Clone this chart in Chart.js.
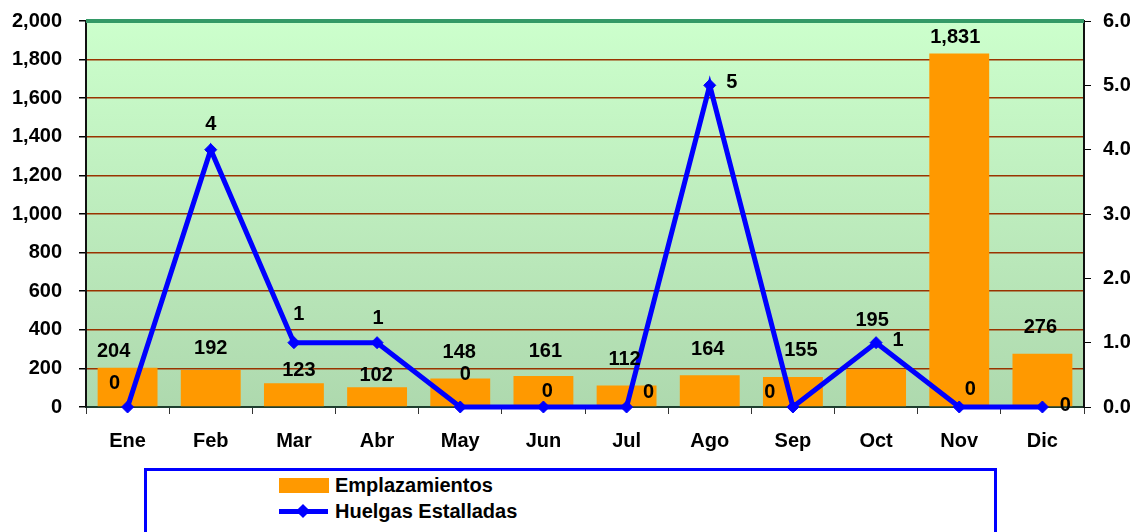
<!DOCTYPE html>
<html>
<head>
<meta charset="utf-8">
<script src="https://cdn.jsdelivr.net/npm/chart.js@4.4.0/dist/chart.umd.min.js"></script>
<style>
  body { margin: 0; background: #fff; }
  #wrap { position: relative; width: 1141px; height: 532px; overflow: hidden; }
  #legend {
    position: absolute; left: 144px; top: 468px; width: 853px; height: 90px;
    box-sizing: border-box; border: 3px solid #0000ff; background: #fff;
    font: bold 20px "Liberation Sans", Arial, sans-serif; color: #000;
  }
  .sw { position: absolute; }
  .txt { position: absolute; left: 188px; line-height: 24px; white-space: nowrap; }
</style>
</head>
<body>
<div id="wrap">
  <canvas id="barLine" width="1141" height="532"></canvas>
  <div id="legend">
    <div class="sw" style="left:132px;top:7px;width:50px;height:15px;background:#ff9900"></div>
    <div class="txt" style="top:2px">Emplazamientos</div>
    <div class="sw" style="left:132px;top:38px;width:49px;height:5px;background:#0000ff"></div>
    <div class="sw" style="left:151px;top:35px;width:10px;height:10px;background:#0000ff;transform:rotate(45deg)"></div>
    <div class="txt" style="top:28px">Huelgas Estalladas</div>
  </div>
</div>
<script>
var months = ['Ene', 'Feb', 'Mar', 'Abr', 'May', 'Jun', 'Jul', 'Ago', 'Sep', 'Oct', 'Nov', 'Dic'];
var emplazamientos = [204, 192, 123, 102, 148, 161, 112, 164, 155, 195, 1831, 276];
var huelgas = [0, 4, 1, 1, 0, 0, 0, 5, 0, 1, 0, 0];

var font = { family: '"Liberation Sans", Arial, sans-serif', size: 20, weight: 'bold' };

// where the value labels sit, relative to the bar top / line point
var barShift = [[-14, -16], [0, -21], [5, -13], [-1, -12], [-1, -26], [2, -24], [-2, -26], [-2, -26], [8, -27], [-4, -49], [-4, -16], [-2, -26]];
var lineShift = [[-13, -24], [0, -25], [5, -28], [1, -24], [5, -33], [4, -16], [22, -15], [22, -3], [-23, -15], [22, -2], [11, -18], [23, -2]];

var plotBack = {
    id: 'plotBack',
    beforeDraw: function (chart) {
        var a = chart.chartArea, c = chart.ctx;
        var g = c.createLinearGradient(0, a.top, 0, a.bottom);
        g.addColorStop(0, '#ccffcc');
        g.addColorStop(1, '#aed9ae');
        c.save();
        c.fillStyle = g;
        c.fillRect(a.left, a.top, a.right - a.left, a.bottom - a.top);
        c.restore();
    },
    afterDraw: function (chart) {
        var a = chart.chartArea, c = chart.ctx;
        c.save();
        c.fillStyle = '#339966';
        c.fillRect(a.left, a.top - 2, a.right - a.left, 4);
        c.restore();
    }
};

var valueLabels = {
    id: 'valueLabels',
    afterDatasetsDraw: function (chart) {
        var c = chart.ctx;
        c.save();
        c.font = 'bold 20px "Liberation Sans", Arial, sans-serif';
        c.fillStyle = '#000';
        c.textAlign = 'center';
        c.textBaseline = 'middle';
        chart.getDatasetMeta(0).data.forEach(function (bar, i) {
            c.fillText(emplazamientos[i].toLocaleString('en-US'), bar.x + barShift[i][0], bar.y + barShift[i][1]);
        });
        chart.getDatasetMeta(1).data.forEach(function (pt, i) {
            c.fillText(String(huelgas[i]), pt.x + lineShift[i][0], pt.y + lineShift[i][1]);
        });
        c.restore();
    }
};

// fixed axis width, and no extra room above/below for the end labels
function fitSide(w) {
    return function (s) {
        s.width = w;
        s.paddingTop = 0;
        s.paddingBottom = 0;
    };
}

var ctx = document.getElementById('barLine');
var myChart = new Chart(ctx, {
    type: 'bar',
    data: {
        labels: months,
        datasets: [
            {
                label: 'Emplazamientos',
                data: emplazamientos,
                backgroundColor: '#ff9900',
                barPercentage: 0.72,
                categoryPercentage: 1,
                yAxisID: 'y',
                order: 1
            },
            {
                type: 'line',
                label: 'Huelgas Estalladas',
                data: huelgas,
                borderColor: '#0000ff',
                backgroundColor: '#0000ff',
                borderWidth: 5,
                pointStyle: 'rectRot',
                pointRadius: 6,
                pointBorderWidth: 1,
                tension: 0,
                clip: false,
                yAxisID: 'y2',
                order: 0
            }
        ]
    },
    options: {
        responsive: false,
        animation: false,
        layout: { padding: { top: 21, left: 0, right: 0, bottom: 75 } },
        plugins: { legend: { display: false }, tooltip: { enabled: false } },
        scales: {
            x: {
                offset: true,
                grid: { offset: true, drawOnChartArea: false, tickLength: 7, tickColor: '#333' },
                border: { color: '#1f3f2f', width: 2 },
                ticks: { color: '#000', font: font, padding: 15 },
                afterFit: function (s) { s.height = 50; }
            },
            y: {
                position: 'left',
                min: 0,
                max: 2000,
                ticks: { stepSize: 200, color: '#000', font: font, padding: 17 },
                grid: {
                    color: function (c) {
                        return (c.tick.value === 0 || c.tick.value === 2000) ? 'rgba(0,0,0,0)' : '#993300';
                    },
                    tickColor: '#000',
                    tickLength: 7,
                    lineWidth: 1.5
                },
                border: { color: '#111', width: 2 },
                afterFit: fitSide(86)
            },
            y2: {
                position: 'right',
                min: 0,
                max: 6,
                ticks: {
                    stepSize: 1, color: '#000', font: font, padding: 12,
                    callback: function (v) { return v.toFixed(1); }
                },
                grid: { drawOnChartArea: false, tickColor: '#000', tickLength: 7 },
                border: { color: '#111', width: 2 },
                afterFit: fitSide(57)
            }
        }
    },
    plugins: [plotBack, valueLabels]
});
</script>
</body>
</html>
